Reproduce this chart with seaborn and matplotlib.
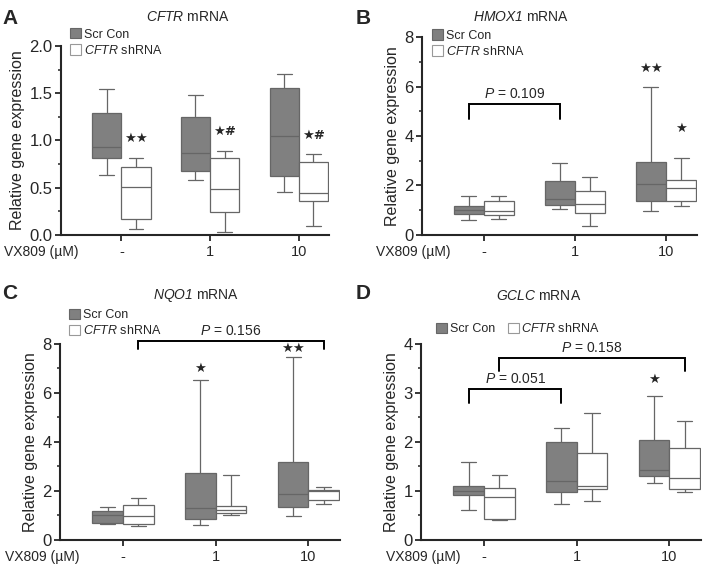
import pandas as pd
import seaborn as sns
import matplotlib.pyplot as plt
import matplotlib.transforms as mtransforms
from matplotlib.patches import Patch

doses = ['-', '1', '10']
groups = ['Scr Con', 'CFTR shRNA']

# five-number summaries per dose: min, Q1, median, Q3, max
cftr_scr = [[0.63, 0.81, 0.93, 1.29, 1.54], [0.58, 0.68, 0.87, 1.25, 1.48], [0.45, 0.62, 1.05, 1.56, 1.70]]
cftr_sh = [[0.06, 0.17, 0.51, 0.72, 0.82], [0.03, 0.24, 0.49, 0.81, 0.89], [0.10, 0.36, 0.44, 0.77, 0.86]]

hmox1_scr = [[0.62, 0.86, 1.00, 1.19, 1.58], [1.06, 1.21, 1.47, 2.20, 2.89], [0.97, 1.37, 2.05, 2.94, 5.98]]
hmox1_sh = [[0.65, 0.79, 0.96, 1.36, 1.58], [0.37, 0.88, 1.24, 1.79, 2.36], [1.17, 1.37, 1.91, 2.23, 3.12]]

nqo1_scr = [[0.66, 0.70, 1.03, 1.19, 1.34], [0.62, 0.87, 1.31, 2.72, 6.53], [0.96, 1.35, 1.88, 3.17, 7.45]]
nqo1_sh = [[0.58, 0.66, 0.99, 1.44, 1.71], [1.02, 1.11, 1.23, 1.40, 2.64], [1.46, 1.63, 2.00, 2.05, 2.15]]

gclc_scr = [[0.62, 0.92, 0.99, 1.10, 1.59], [0.73, 0.97, 1.21, 2.00, 2.29], [1.17, 1.30, 1.42, 2.05, 2.93]]
gclc_sh = [[0.41, 0.43, 0.87, 1.07, 1.32], [0.79, 1.05, 1.11, 1.78, 2.60], [0.98, 1.05, 1.27, 1.88, 2.43]]

# significance marks: (x, y, text)
marks_a = [(0.165, 1.02, '★★'), (1.165, 1.10, '★#'), (2.165, 1.05, '★#')]
marks_b = [(1.835, 6.75, '★★'), (2.165, 4.3, '★')]
marks_c = [(0.835, 7.0, '★'), (1.835, 7.8, '★★')]
marks_d = [(1.835, 3.27, '★')]

# brackets: (x0, x1, top, bottom, label)
brackets_b = [(-0.165, 0.835, 5.3, 4.7, '0.109')]
brackets_c = [(0.165, 2.165, 8.13, 7.8, '0.156')]
brackets_d = [(-0.165, 0.835, 3.08, 2.79, '0.051'), (0.165, 2.165, 3.72, 3.45, '0.158')]

sns.set_style('ticks')
plt.rcParams['font.family'] = ['Liberation Sans', 'DejaVu Sans']
plt.rcParams['mathtext.fontset'] = 'custom'
plt.rcParams['mathtext.sf'] = 'Liberation Sans:italic'
plt.rcParams['mathtext.rm'] = 'Liberation Sans'

DARK = '#808080'
EDGE = '#666666'


def to_frame(scr, sh):
    rows = []
    for dose, s, c in zip(doses, scr, sh):
        rows += [(dose, groups[0], v) for v in s]
        rows += [(dose, groups[1], v) for v in c]
    return pd.DataFrame(rows, columns=['dose', 'group', 'value'])


panels = [
    dict(letter='A', gene='CFTR', scr=cftr_scr, sh=cftr_sh, ymax=2.0, major=0.5,
         rect=[0.0862, 0.5899, 0.3785, 0.3298], fmt='{:.1f}', marks=marks_a, brackets=[],
         title=(0.2655, 0.970), let=(0.003, 0.984), leg=(0.0989, 0.951), ncol=1, vx=0.005),
    dict(letter='B', gene='HMOX1', scr=hmox1_scr, sh=hmox1_sh, ymax=8, major=2,
         rect=[0.596, 0.5899, 0.3884, 0.3455], fmt='{:.0f}', marks=marks_b, brackets=brackets_b,
         title=(0.736, 0.970), let=(0.503, 0.984), leg=(0.610, 0.949), ncol=1, vx=0.531),
    dict(letter='C', gene='NQO1', scr=nqo1_scr, sh=nqo1_sh, ymax=8, major=2,
         rect=[0.0847, 0.0576, 0.3955, 0.3421], fmt='{:.0f}', marks=marks_c, brackets=brackets_c,
         title=(0.277, 0.485), let=(0.003, 0.505), leg=(0.0975, 0.461), ncol=1, vx=0.007),
    dict(letter='D', gene='GCLC', scr=gclc_scr, sh=gclc_sh, ymax=4, major=1,
         rect=[0.5946, 0.0576, 0.3955, 0.3421], fmt='{:.0f}', marks=marks_d, brackets=brackets_d,
         title=(0.761, 0.483), let=(0.503, 0.505), leg=(0.616, 0.438), ncol=2, vx=0.545),
]

fig = plt.figure(figsize=(7.08, 5.73), dpi=100)

for p in panels:
    ax = fig.add_axes(p['rect'])
    df = to_frame(p['scr'], p['sh'])
    sns.boxplot(data=df, x='dose', y='value', hue='group', order=doses, hue_order=groups,
                whis=(0, 100), width=0.66, gap=0, showfliers=False,
                palette={groups[0]: DARK, groups[1]: 'white'},
                linecolor=EDGE, linewidth=0.9, legend=False, ax=ax)

    ax.set_xlim(-0.68, 2.34)
    ax.set_ylim(0, p['ymax'])
    ticks = [i * p['major'] for i in range(int(round(p['ymax'] / p['major'])) + 1)]
    ax.set_yticks(ticks)
    ax.set_yticklabels([p['fmt'].format(t) for t in ticks])
    ax.set_yticks([t + p['major'] / 2 for t in ticks[:-1]], minor=True)
    ax.set_xlabel('')
    ax.set_ylabel('Relative gene expression', fontsize=11.5, labelpad=3)
    sns.despine(ax=ax)
    for s in ['left', 'bottom']:
        ax.spines[s].set_linewidth(1.5)
    ax.tick_params(axis='both', which='major', length=4, width=1.3, pad=3)
    ax.tick_params(axis='x', labelsize=10.5)
    ax.tick_params(axis='y', labelsize=12, pad=2)
    ax.tick_params(axis='y', which='minor', length=2.5, width=1.1)

    for x, y, t in p['marks']:
        ax.text(x, y, t, ha='center', va='center', fontsize=9.5, fontweight='bold',
                family=['DejaVu Sans'])

    for x0, x1, top, bot, lab in p['brackets']:
        ax.plot([x0, x0, x1, x1], [bot, top, top, bot], color='black', lw=1.4,
                clip_on=False, solid_joinstyle='miter')
        ax.text((x0 + x1) / 2, top + p['ymax'] * 0.015, r'$\mathsf{P}$ = ' + lab,
                ha='center', va='bottom', fontsize=10, clip_on=False)

    trans = mtransforms.blended_transform_factory(fig.transFigure, ax.transAxes)
    ax.annotate('VX809 (µM)', xy=(p['vx'], 0), xycoords=trans, xytext=(0, -7),
                textcoords='offset points', ha='left', va='top', fontsize=10,
                annotation_clip=False)

    handles = [Patch(facecolor=DARK, edgecolor=EDGE, lw=0.8),
               Patch(facecolor='white', edgecolor='#999999', lw=0.8)]
    labels = ['Scr Con', r'$\mathsf{CFTR}$ shRNA']
    fig.legend(handles, labels, loc='upper left', bbox_to_anchor=p['leg'], ncol=p['ncol'],
               frameon=False, fontsize=9, handlelength=0.9, handleheight=0.9,
               handletextpad=0.2, labelspacing=0.25, columnspacing=1.0,
               borderpad=0, borderaxespad=0)

    fig.text(p['title'][0], p['title'][1], r'$\mathsf{' + p['gene'] + '}$ mRNA',
             ha='center', va='center', fontsize=10)
    fig.text(p['let'][0], p['let'][1], p['letter'], ha='left', va='top',
             fontsize=15, fontweight='bold')

fig.savefig('out.png', dpi=100)
